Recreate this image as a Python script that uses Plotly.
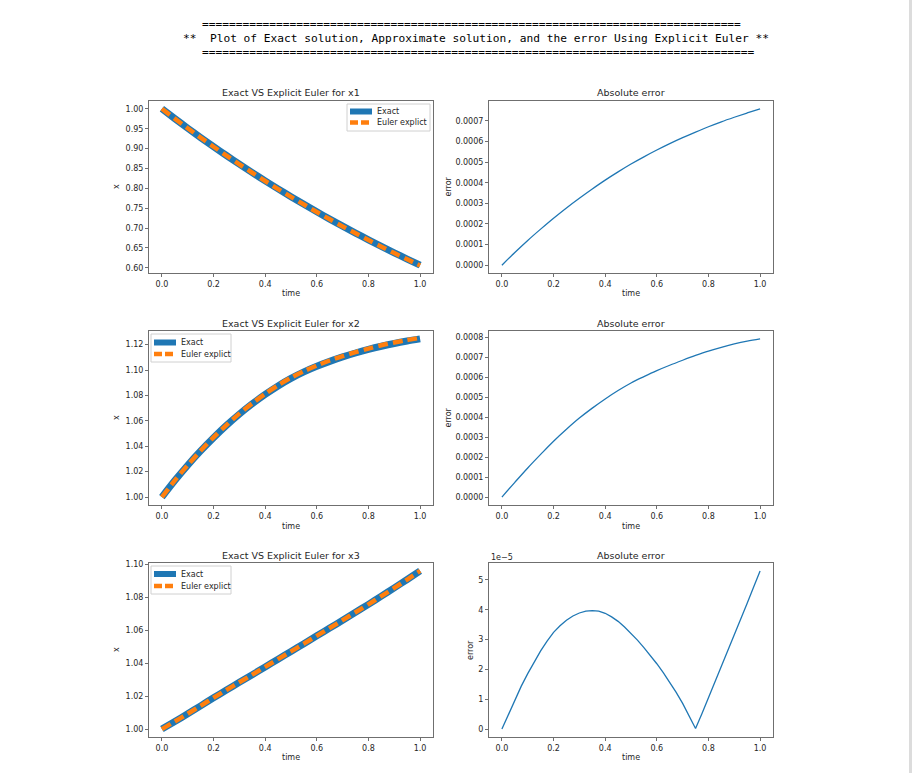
import plotly.graph_objects as go

W, H = 912, 773

# ---------------- data ----------------
t = [0.0, 0.05, 0.1, 0.15, 0.2, 0.25, 0.3, 0.35, 0.4, 0.45, 0.5,
     0.55, 0.6, 0.65, 0.7, 0.75, 0.8, 0.85, 0.9, 0.95, 1.0]

x1_exact = [1.0, 0.9753, 0.9512, 0.9277, 0.9048, 0.8825, 0.8607, 0.8395, 0.8187, 0.7985, 0.7788,
            0.7596, 0.7408, 0.7225, 0.7047, 0.6873, 0.6703, 0.6538, 0.6376, 0.6219, 0.6065]
x1_euler = [1.0, 0.9752, 0.9511, 0.9275, 0.9046, 0.8822, 0.8604, 0.8391, 0.8183, 0.7980, 0.7783,
            0.7591, 0.7402, 0.7219, 0.7041, 0.6866, 0.6696, 0.6531, 0.6369, 0.6212, 0.6057]
err1 = [0.0, 0.0000615, 0.000120, 0.000175, 0.000228, 0.000278, 0.000325, 0.000370, 0.000413,
        0.000453, 0.000491, 0.000526, 0.000559, 0.000590, 0.000619, 0.000646, 0.000672,
        0.000696, 0.000718, 0.000739, 0.000759]

x2_exact = [1.0, 1.0130, 1.0251, 1.0363, 1.0467, 1.0564, 1.0653, 1.0734, 1.0808, 1.0875, 1.0934,
            1.0985, 1.1029, 1.1068, 1.1103, 1.1134, 1.1162, 1.1187, 1.1209, 1.1228, 1.1245]
x2_euler = [1.0, 1.0131, 1.0252, 1.0365, 1.0470, 1.0567, 1.0657, 1.0738, 1.0813, 1.0880, 1.0940,
            1.0991, 1.1035, 1.1075, 1.1110, 1.1141, 1.1169, 1.1195, 1.1217, 1.1236, 1.1253]
err2 = [0.0, 0.000074, 0.000146, 0.000214, 0.000280, 0.000340, 0.000396, 0.000446, 0.000492,
        0.000534, 0.000572, 0.000604, 0.000634, 0.000661, 0.000686, 0.000710, 0.000732,
        0.000751, 0.000768, 0.000782, 0.000793]

x3_exact = [1.0, 1.0046, 1.0093, 1.0141, 1.0190, 1.0237, 1.0284, 1.0330, 1.0377, 1.0424, 1.0471,
            1.0518, 1.0566, 1.0613, 1.0661, 1.0709, 1.0757, 1.0807, 1.0857, 1.0908, 1.0960]
x3_euler = [1.0, 1.00461, 1.00931, 1.01414, 1.01903, 1.02374, 1.02844, 1.03304, 1.03774, 1.04244,
            1.04713, 1.05183, 1.05662, 1.06132, 1.06611, 1.07090, 1.07569, 1.08068, 1.08567,
            1.09076, 1.09595]

t3 = [0.0, 0.025, 0.05, 0.075, 0.1, 0.125, 0.15, 0.175, 0.2, 0.225, 0.25, 0.275, 0.3, 0.325,
      0.35, 0.375, 0.4, 0.425, 0.45, 0.475, 0.5, 0.525, 0.55, 0.575, 0.6, 0.625, 0.65, 0.675,
      0.7, 0.725, 0.75, 0.775, 0.8, 0.825, 0.85, 0.875, 0.9, 0.925, 0.95, 0.975, 1.0]
err3 = [0.0, 0.50e-5, 0.98e-5, 1.44e-5, 1.86e-5, 2.25e-5, 2.62e-5, 2.95e-5, 3.24e-5, 3.46e-5,
        3.65e-5, 3.79e-5, 3.89e-5, 3.95e-5, 3.97e-5, 3.95e-5, 3.88e-5, 3.76e-5, 3.61e-5,
        3.42e-5, 3.21e-5, 2.98e-5, 2.73e-5, 2.47e-5, 2.19e-5, 1.89e-5, 1.57e-5, 1.23e-5,
        0.86e-5, 0.45e-5, 0.02e-5, 0.52e-5, 1.04e-5, 1.56e-5, 2.09e-5, 2.62e-5, 3.15e-5,
        3.68e-5, 4.22e-5, 4.76e-5, 5.30e-5]

x_ticks = [0.0, 0.2, 0.4, 0.6, 0.8, 1.0]
err3_ticks = [0, 1e-5, 2e-5, 3e-5, 4e-5, 5e-5]
err3_ticktext = ["0", "1", "2", "3", "4", "5"]

panel_titles = ["Exact VS Explicit Euler for x1", "Absolute error",
                "Exact VS Explicit Euler for x2", "Absolute error",
                "Exact VS Explicit Euler for x3", "Absolute error"]
legend_names = ["Exact", "Euler explict"]

title_lines = ["=" * 80,
               "**  Plot of Exact solution, Approximate solution, and the error Using Explicit Euler **",
               "=" * 82]

# ---------------- layout helpers ----------------
BLUE = "#1f77b4"
ORANGE = "#ff7f0e"
FONT = "DejaVu Sans"
SPINE = "#6f6f6f"
TXT = "#262626"
EXACT_W = 7
EULER_W = 4.5
EULER_DASH = "10px,5px"

col_px = [(149, 433), (489, 773)]
row_px = [(101, 273), (331, 505), (563, 737)]


def px(x):
    return x / W


def py(y):
    return 1 - y / H


fig = go.Figure()

x_solution = [(x1_exact, x1_euler), (x2_exact, x2_euler), (x3_exact, x3_euler)]
err_series = [(t, err1, "spline"), (t, err2, "spline"), (t3, err3, "linear")]

for r in range(3):
    ex, eu = x_solution[r]
    ax_l = 2 * r + 1
    ax_r = 2 * r + 2
    sl = "" if ax_l == 1 else str(ax_l)
    fig.add_trace(go.Scatter(x=t, y=ex, mode="lines", name=legend_names[0], showlegend=False,
                             line=dict(color=BLUE, width=EXACT_W, shape="spline", smoothing=0.8),
                             xaxis="x" + sl, yaxis="y" + sl))
    fig.add_trace(go.Scatter(x=t, y=eu, mode="lines", name=legend_names[1], showlegend=False,
                             line=dict(color=ORANGE, width=EULER_W, dash=EULER_DASH,
                                       shape="spline", smoothing=0.8),
                             xaxis="x" + sl, yaxis="y" + sl))
    tx, ey, shp = err_series[r]
    fig.add_trace(go.Scatter(x=tx, y=ey, mode="lines", showlegend=False,
                             line=dict(color=BLUE, width=1.3, shape=shp),
                             xaxis="x" + str(ax_r), yaxis="y" + str(ax_r)))

axis_common = dict(showline=True, mirror=True, linecolor=SPINE, linewidth=1,
                   ticks="outside", ticklen=3, tickwidth=1, tickcolor=SPINE,
                   showgrid=False, zeroline=False,
                   tickfont=dict(family=FONT, size=8, color=TXT))


def span(lo, hi):
    d = hi - lo
    return [lo - 0.05 * d, hi + 0.05 * d]


y_ranges = [span(min(x1_exact), max(x1_exact)), span(0, max(err1)),
            span(min(x2_exact), max(x2_exact)), span(0, max(err2)),
            span(min(x3_exact), max(x3_exact)), span(0, max(err3))]
y_dticks = [0.05, 0.0001, 0.02, 0.0001, 0.02, None]
y_fmts = [".2f", ".4f", ".2f", ".4f", ".2f", None]

layout = dict(width=W, height=H, margin=dict(l=0, r=0, t=0, b=0, autoexpand=False),
              paper_bgcolor="white", plot_bgcolor="white", showlegend=False,
              font=dict(family=FONT, color=TXT))

for i in range(6):
    r, c = divmod(i, 2)
    n = i + 1
    sx = "xaxis" if n == 1 else "xaxis%d" % n
    sy = "yaxis" if n == 1 else "yaxis%d" % n
    anchor_x = "y" if n == 1 else "y%d" % n
    anchor_y = "x" if n == 1 else "x%d" % n
    layout[sx] = dict(axis_common, domain=[px(col_px[c][0]), px(col_px[c][1])],
                      anchor=anchor_x, range=[-0.05, 1.05], tickvals=x_ticks,
                      tickformat=".1f")
    ya = dict(axis_common, domain=[py(row_px[r][1]), py(row_px[r][0])],
              anchor=anchor_y, range=y_ranges[i])
    if y_dticks[i] is not None:
        ya.update(tick0=0, dtick=y_dticks[i], tickformat=y_fmts[i])
    else:
        ya.update(tickvals=err3_ticks, ticktext=err3_ticktext)
    layout[sy] = ya

annotations = []
shapes = []

title_y = [92.5, 323.5, 555]
time_y = [293.5, 526, 757.5]
ylab_center = [(r0 + r1) / 2 for r0, r1 in row_px]
for i in range(6):
    r, c = divmod(i, 2)
    cx = (col_px[c][0] + col_px[c][1]) / 2
    annotations.append(dict(text=panel_titles[i], x=px(cx), y=py(title_y[r]), xref="paper",
                            yref="paper", showarrow=False, xanchor="center", yanchor="middle",
                            font=dict(family=FONT, size=9.5, color=TXT)))
    annotations.append(dict(text="time", x=px(cx), y=py(time_y[r]), xref="paper",
                            yref="paper", showarrow=False, xanchor="center", yanchor="middle",
                            font=dict(family=FONT, size=8, color=TXT)))
    if c == 0:
        lab, lx = "x", 116
    else:
        lab, lx = "error", (470 if r == 2 else 447.5)
    annotations.append(dict(text=lab, x=px(lx), y=py(ylab_center[r]), xref="paper",
                            yref="paper", showarrow=False, xanchor="center", yanchor="middle",
                            textangle=-90, font=dict(family=FONT, size=8, color=TXT)))

annotations.append(dict(text="1e\u22125", x=px(489), y=py(557.5), xref="paper", yref="paper",
                        showarrow=False, xanchor="left", yanchor="middle",
                        font=dict(family=FONT, size=8, color=TXT)))

# matplotlib-style legends (box, handles, labels), one per left panel
legend_boxes = [  # (x0, y0, x1, y1, handle_x0, handle_x1, text_x, row_y0, row_y1)
    (347, 104, 430, 131, 350, 372, 375, 111.5, 122.5),
    (151, 334, 231, 362, 154, 176, 179, 342.5, 354),
    (151, 566, 231, 594, 154, 176, 179, 574, 586),
]
for (bx0, by0, bx1, by1, hx0, hx1, tx_, ry0, ry1) in legend_boxes:
    shapes.append(dict(type="rect", xref="paper", yref="paper",
                       x0=px(bx0), x1=px(bx1), y0=py(by1), y1=py(by0),
                       fillcolor="rgba(255,255,255,0.8)",
                       line=dict(color="#d0d0d0", width=1)))
    shapes.append(dict(type="line", xref="paper", yref="paper",
                       x0=px(hx0), x1=px(hx1), y0=py(ry0), y1=py(ry0),
                       line=dict(color=BLUE, width=6)))
    shapes.append(dict(type="line", xref="paper", yref="paper",
                       x0=px(hx0), x1=px(hx1), y0=py(ry1), y1=py(ry1),
                       line=dict(color=ORANGE, width=EULER_W, dash="8px,3px")))
    for name, ry in zip(legend_names, (ry0, ry1)):
        annotations.append(dict(text=name, x=px(tx_), y=py(ry), xref="paper", yref="paper",
                                showarrow=False, xanchor="left", yanchor="middle",
                                font=dict(family=FONT, size=8, color=TXT)))

title_pos = [(200, 25), (180.5, 38.5), (200, 52)]
for line, (lx, ly) in zip(title_lines, title_pos):
    annotations.append(dict(text=line.replace(" ", "\u00a0"), x=px(lx), y=py(ly),
                            xref="paper", yref="paper", showarrow=False,
                            xanchor="left", yanchor="middle",
                            font=dict(family="DejaVu Sans Mono", size=11.2, color="#000000")))

shapes.append(dict(type="rect", xref="paper", yref="paper", x0=px(909), x1=1.0,
                   y0=0, y1=1, fillcolor="#dcdcdc", line=dict(width=0), layer="below"))

layout["annotations"] = annotations
layout["shapes"] = shapes

fig.update_layout(layout)
fig.write_html("out.html")
